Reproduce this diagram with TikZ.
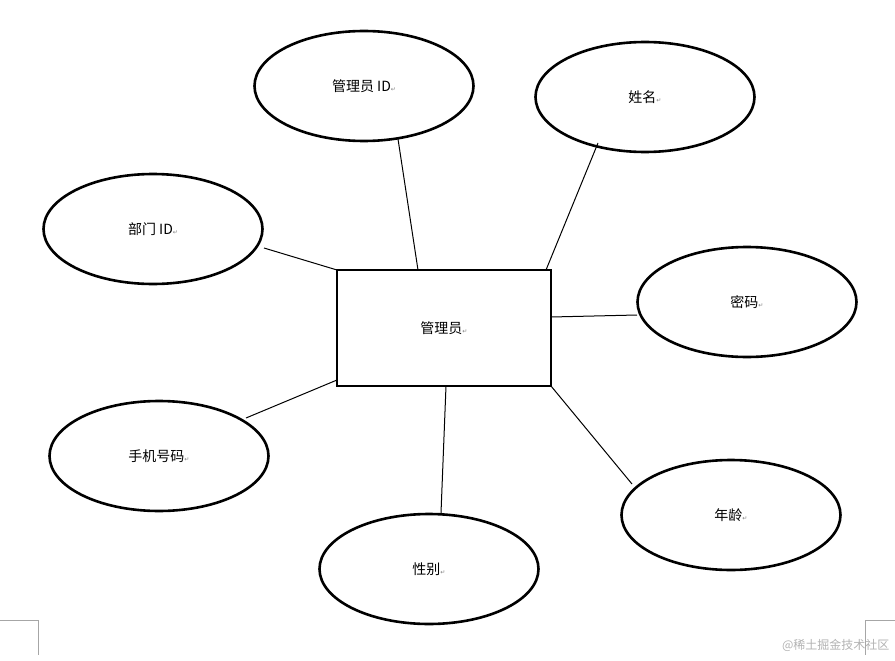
\documentclass[tikz,border=0pt]{standalone}
\usepackage{fontspec}
\newfontfamily\cjk{Noto Sans CJK SC}
\newfontfamily\djsans{DejaVu Sans}
\usetikzlibrary{shapes.geometric}
\begin{document}
\begin{tikzpicture}[x=1pt,y=-1pt,
  attr/.style={ellipse,draw,line width=2.6pt,minimum width=219pt,minimum height=110pt,font=\cjk\fontsize{14}{16}\selectfont},
  ent/.style={draw,line width=2.8pt,minimum width=214pt,minimum height=116pt,font=\cjk\fontsize{14}{16}\selectfont},
  conn/.style={line width=1pt}]
\useasboundingbox (0,0) rectangle (895,661);
\newcommand\parmark{{\djsans\fontsize{6}{6}\selectfont\color{gray}↵}}
\node[ent] (box) at (444,328) {管理员\parmark};
\node[attr] (e1) at (364,86) {管理员 ID\parmark};
\node[attr] (e2) at (645,97) {姓名\parmark};
\node[attr] (e3) at (153,229) {部门 ID\parmark};
\node[attr] (e4) at (747,302) {密码\parmark};
\node[attr] (e5) at (159,456) {手机号码\parmark};
\node[attr] (e6) at (429,569) {性别\parmark};
\node[attr] (e7) at (731,515) {年龄\parmark};
\coordinate (a1) at (398,139); \coordinate (b1) at (418,270);
\coordinate (a2) at (598,143); \coordinate (b2) at (546,270);
\coordinate (a3) at (264,248); \coordinate (b3) at (337,270);
\coordinate (a4) at (637,315); \coordinate (b4) at (551,317);
\coordinate (a5) at (246,418); \coordinate (b5) at (337,380);
\coordinate (a6) at (441,513); \coordinate (b6) at (446,386);
\coordinate (a7) at (632,484); \coordinate (b7) at (551,386);
\foreach \i in {1,...,7}{\draw[conn] (a\i) -- (b\i);}
\draw[gray!70,line width=0.6pt] (0,620) -- (38,620) -- (38,655);
\draw[gray!70,line width=0.6pt] (895,620) -- (865,620) -- (865,655);
\node[font=\cjk\fontsize{12}{14}\selectfont,text=gray!60,anchor=east] (wm) at (893,645) {@稀土掘金技术社区};
\end{tikzpicture}
\end{document}
